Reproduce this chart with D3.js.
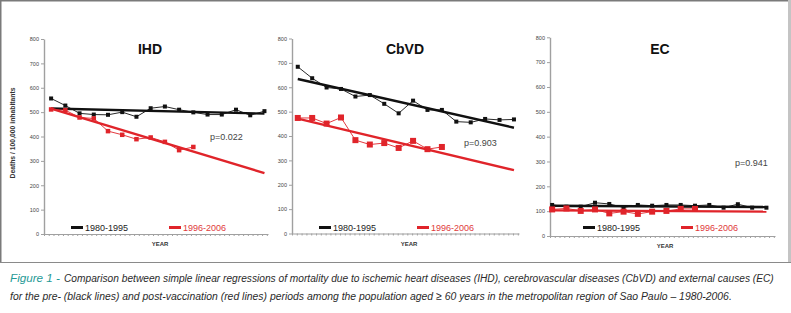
<!DOCTYPE html>
<html><head><meta charset="utf-8">
<script src="https://cdn.jsdelivr.net/npm/d3@7"></script>
<style>body{margin:0;background:#fff}</style>
</head><body>
<svg id="c" width="791" height="313"></svg>
<script>
// ---------- DATA ----------
const panelNames = ["IHD", "CbVD", "EC"];
const preYears = ["1980","1981","1982","1983","1984","1985","1986","1987","1988","1989","1990","1991","1992","1993","1994","1995"];
const postYears = ["1996","1997","1998","1999","2000","2001","2002","2003","2004","2005","2006"];
const ihdPre = [556,527,495,490,489,500,481,516,523,510,499,490,490,510,487,504];
const ihdPost = [511,508,478,474,422,407,389,396,378,344,357];
const ihdTrendPre = [515,494];
const ihdTrendPost = [514,250];
const cbvdPre = [684,637,599,593,562,568,532,493,545,507,507,459,456,470,466,468];
const cbvdPost = [474,474,451,476,383,365,371,351,380,346,355];
const cbvdTrendPre = [634,434];
const cbvdTrendPost = [471,260];
const ecPre = [125,118,118,134,129,115,125,122,125,125,122,125,114,128,114,114];
const ecPost = [107,111,101,107,91,98,89,98,101,109,109];
const ecTrendPre = [122,117];
const ecTrendPost = [103,98];
const pValues = ["p=0.022", "p=0.903", "p=0.941"];
const yTicks = [0,100,200,300,400,500,600,700,800];
const legendLabels = ["1980-1995", "1996-2006"];
const yTitle = "Deaths / 100,000 inhabitants";
const xTitle = "YEAR";
const captionHead = "Figure 1 -";
const captionLine1 = "Comparison between simple linear regressions of mortality due to ischemic heart diseases (IHD), cerebrovascular diseases (CbVD) and external causes (EC)";
const captionLine2 = "for the pre- (black lines) and post-vaccination (red lines) periods among the population aged \u2265 60 years in the metropolitan region of Sao Paulo \u2013 1980-2006.";

// ---------- LAYOUT ----------
const RED = "#e0242a";
const layout = [
  {axisX:44,  xEnd:268, d0:-0.5,  d1:15.25, yTop:39,   yBot:234,   titleX:150, pX:210, pY:137, legX:71,  yearX:160, redSize:4.5, showYTitle:true},
  {axisX:292, xEnd:519, d0:-0.4,  d1:15.35, yTop:38.5, yBot:233.5, titleX:405, pX:464, pY:143, legX:319, yearX:409, redSize:6},
  {axisX:550, xEnd:775, d0:-0.15, d1:15.6,  yTop:37.3, yBot:236,   titleX:660, pX:735, pY:163, legX:583, yearX:665, redSize:6}
];
const seriesData = [
  {pre: ihdPre,  post: ihdPost,  tPre: ihdTrendPre,  tPost: ihdTrendPost},
  {pre: cbvdPre, post: cbvdPost, tPre: cbvdTrendPre, tPost: cbvdTrendPost},
  {pre: ecPre,   post: ecPost,   tPre: ecTrendPre,   tPost: ecTrendPost}
];

const svg = d3.select("#c");
const FONT = "'Liberation Sans', Arial, sans-serif";

// frame
svg.append("line").attr("x1",0).attr("x2",791).attr("y1",0.75).attr("y2",0.75).attr("stroke","#7a7a7a").attr("stroke-width",1.5);
svg.append("line").attr("x1",0.75).attr("x2",0.75).attr("y1",0).attr("y2",262.5).attr("stroke","#7a7a7a").attr("stroke-width",1.5);
svg.append("line").attr("x1",789.5).attr("x2",789.5).attr("y1",0).attr("y2",263).attr("stroke","#c4c4c4").attr("stroke-width",3);
svg.append("line").attr("x1",0).attr("x2",791).attr("y1",262.5).attr("y2",262.5).attr("stroke","#8a8a8a").attr("stroke-width",1);

layout.forEach((L, i) => {
  const D = seriesData[i];
  const g = svg.append("g");
  const x = d3.scaleLinear().domain([L.d0, L.d1]).range([L.axisX, L.xEnd]);
  const y = d3.scaleLinear().domain([0, 800]).range([L.yBot, L.yTop]);

  const ya = g.append("g").attr("transform", `translate(${L.axisX},0)`)
    .call(d3.axisLeft(y).tickValues(yTicks).tickSize(3).tickSizeOuter(0).tickPadding(2));
  ya.select(".domain").attr("stroke","#a0a0a0").attr("stroke-width",1.4);
  ya.selectAll(".tick line").attr("stroke","#a0a0a0");
  ya.selectAll(".tick text").attr("font-family",FONT).attr("font-size",5.5).attr("fill","#444");

  const xt = d3.range(L.d0, L.d1 + 0.01, 1/3);
  const xa = g.append("g").attr("transform", `translate(0,${L.yBot})`)
    .call(d3.axisBottom(x).tickValues(xt).tickSize(2).tickSizeOuter(0).tickFormat(""));
  xa.select(".domain").attr("stroke","#a0a0a0").attr("stroke-width",1.2);
  xa.selectAll(".tick line").attr("stroke","#a0a0a0");

  g.append("text").attr("x",L.titleX).attr("y",54).attr("text-anchor","middle")
    .attr("font-family",FONT).attr("font-size",14).attr("font-weight","bold").attr("fill","#111").text(panelNames[i]);

  g.append("line").attr("x1",x(0)).attr("x2",x(preYears.length-1))
    .attr("y1",y(D.tPre[0])).attr("y2",y(D.tPre[1])).attr("stroke","#111").attr("stroke-width",2.4);
  g.append("line").attr("x1",x(0)).attr("x2",x(preYears.length-1))
    .attr("y1",y(D.tPost[0])).attr("y2",y(D.tPost[1])).attr("stroke",RED).attr("stroke-width",2.4);

  const line = d3.line().x((d,k)=>x(k)).y(d=>y(d));
  g.append("path").attr("d", line(D.pre)).attr("fill","none").attr("stroke","#111").attr("stroke-width",0.9);
  g.selectAll(".mp").data(D.pre).enter().append("rect")
    .attr("x",(d,k)=>x(k)-2).attr("y",d=>y(d)-2).attr("width",4).attr("height",4).attr("fill","#111");
  g.append("path").attr("d", line(D.post)).attr("fill","none").attr("stroke",RED).attr("stroke-width",0.9);
  const rs = L.redSize;
  g.selectAll(".mr").data(D.post).enter().append("rect")
    .attr("x",(d,k)=>x(k)-rs/2).attr("y",d=>y(d)-rs/2).attr("width",rs).attr("height",rs).attr("fill",RED);

  g.append("text").attr("x",L.pX).attr("y",L.pY+3).attr("font-family",FONT).attr("font-size",9).attr("fill","#444").text(pValues[i]);

  const ly = 227.5;
  g.append("line").attr("x1",L.legX).attr("x2",L.legX+12).attr("y1",ly).attr("y2",ly).attr("stroke","#111").attr("stroke-width",3);
  g.append("text").attr("x",L.legX+14).attr("y",ly+3.3).attr("font-family",FONT).attr("font-size",9).attr("fill","#222").text(legendLabels[0]);
  g.append("line").attr("x1",L.legX+98).attr("x2",L.legX+110).attr("y1",ly).attr("y2",ly).attr("stroke",RED).attr("stroke-width",3);
  g.append("text").attr("x",L.legX+112).attr("y",ly+3.3).attr("font-family",FONT).attr("font-size",9).attr("fill","#e03a3a").text(legendLabels[1]);

  g.append("text").attr("x",L.yearX).attr("y",L.yBot+12).attr("text-anchor","middle")
    .attr("font-family",FONT).attr("font-size",6).attr("font-weight","bold").attr("fill","#333").text(xTitle);

  if (L.showYTitle) {
    g.append("text").attr("transform","translate(15,133) rotate(-90)").attr("text-anchor","middle")
      .attr("font-family",FONT).attr("font-size",6.8).attr("font-weight","bold").attr("fill","#333")
      .text(yTitle);
  }
});

// caption: condensed italic via horizontal scaling
function captionText(str, x0, yb, width, color) {
  const t = svg.append("text").attr("font-family",FONT).attr("font-size",11.5)
    .attr("font-style","italic").attr("fill",color).text(str);
  const nat = t.node().getComputedTextLength();
  const s = width / nat;
  t.attr("transform", `translate(${x0},${yb}) scale(${s},1)`);
  return t;
}
captionText(captionHead, 10, 282, 50, "#1f9a96");
captionText(captionLine1, 64, 282, 710, "#2a2a2a");
captionText(captionLine2, 10, 300, 722, "#2a2a2a");
</script>
</body></html>
